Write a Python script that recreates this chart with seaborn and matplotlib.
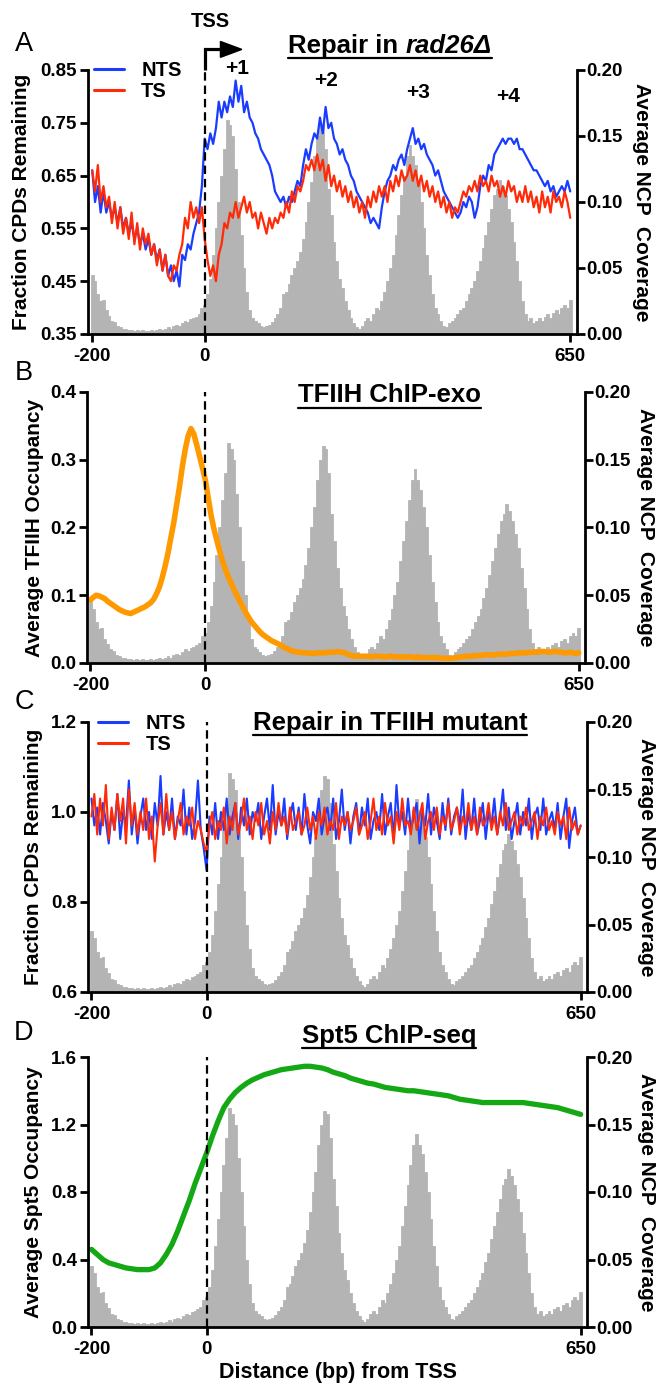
import numpy as np
import pandas as pd
import matplotlib
matplotlib.use("Agg")
import matplotlib.pyplot as plt
import matplotlib.transforms as mtransforms
from matplotlib.lines import Line2D
from matplotlib.patches import Polygon
from matplotlib.ticker import FormatStrFormatter
import seaborn as sns

# ---------------- data ----------------
pos5 = np.arange(-200, 651, 5)      # 5-bp grid, -200..650
pos10 = np.arange(-200, 651, 10)    # 10-bp grid

ncp_coverage = [
    0.045, 0.040, 0.030, 0.025, 0.026, 0.018, 0.014, 0.010, 0.009, 0.006,
    0.005, 0.004, 0.004, 0.003, 0.003, 0.002, 0.003, 0.002, 0.003, 0.002,
    0.002, 0.003, 0.002, 0.003, 0.004, 0.003, 0.004, 0.005, 0.004, 0.006,
    0.007, 0.006, 0.008, 0.010, 0.009, 0.011, 0.012, 0.013, 0.015, 0.020,
    0.022, 0.030, 0.042, 0.060, 0.080, 0.100, 0.120, 0.140, 0.162, 0.158,
    0.150, 0.125, 0.100, 0.075, 0.050, 0.032, 0.018, 0.012, 0.010, 0.008,
    0.006, 0.005, 0.006, 0.007, 0.009, 0.012, 0.015, 0.020, 0.030, 0.032,
    0.038, 0.045, 0.050, 0.055, 0.062, 0.072, 0.085, 0.100, 0.115, 0.135,
    0.150, 0.160, 0.158, 0.140, 0.110, 0.090, 0.070, 0.055, 0.042, 0.035,
    0.025, 0.018, 0.012, 0.008, 0.005, 0.004, 0.006, 0.010, 0.012, 0.010,
    0.015, 0.020, 0.018, 0.025, 0.032, 0.040, 0.050, 0.060, 0.075, 0.090,
    0.105, 0.120, 0.135, 0.143, 0.135, 0.128, 0.115, 0.100, 0.080, 0.060,
    0.045, 0.030, 0.020, 0.015, 0.010, 0.006, 0.005, 0.008, 0.010, 0.012,
    0.015, 0.018, 0.020, 0.025, 0.030, 0.035, 0.040, 0.048, 0.055, 0.065,
    0.075, 0.085, 0.095, 0.105, 0.110, 0.117, 0.112, 0.105, 0.095, 0.085,
    0.070, 0.055, 0.040, 0.025, 0.015, 0.010, 0.012, 0.008, 0.010, 0.012,
    0.010, 0.013, 0.015, 0.012, 0.016, 0.018, 0.015, 0.020, 0.022, 0.020,
    0.026]

# Panel A: repair in rad26 (fraction CPDs remaining)
rad26_nts = [
    0.66, 0.60, 0.63, 0.58, 0.62, 0.58, 0.60, 0.57, 0.59, 0.56,
    0.59, 0.55, 0.57, 0.54, 0.56, 0.53, 0.55, 0.52, 0.54, 0.51,
    0.53, 0.50, 0.52, 0.49, 0.51, 0.47, 0.50, 0.46, 0.48, 0.45,
    0.47, 0.44, 0.50, 0.49, 0.52, 0.51, 0.54, 0.56, 0.58, 0.63,
    0.72,
    0.70, 0.73, 0.71, 0.74, 0.79, 0.76, 0.79, 0.77, 0.80, 0.78,
    0.83, 0.79, 0.82, 0.77, 0.79, 0.76, 0.75, 0.73, 0.72, 0.70,
    0.69, 0.68, 0.67, 0.65, 0.62, 0.61, 0.60, 0.61, 0.59, 0.61,
    0.60, 0.62, 0.64, 0.63, 0.67, 0.70, 0.68, 0.71, 0.73, 0.72,
    0.76, 0.73, 0.78, 0.74, 0.75, 0.72, 0.71, 0.69, 0.70, 0.68,
    0.67, 0.65, 0.64, 0.62, 0.61, 0.60, 0.59, 0.58, 0.56, 0.57,
    0.56, 0.55, 0.59, 0.62, 0.64, 0.65, 0.67, 0.66, 0.68, 0.69,
    0.67, 0.70, 0.72, 0.74, 0.71, 0.72, 0.70, 0.71, 0.69, 0.68,
    0.67, 0.65, 0.66, 0.64, 0.62, 0.61, 0.60, 0.59, 0.58, 0.57,
    0.58, 0.60, 0.59, 0.61, 0.60, 0.57, 0.59, 0.63, 0.65, 0.64,
    0.67, 0.66, 0.69, 0.70, 0.71, 0.72, 0.71, 0.72, 0.72, 0.71,
    0.72, 0.70, 0.70, 0.69, 0.68, 0.67, 0.66, 0.66, 0.65, 0.64,
    0.63, 0.64, 0.62, 0.63, 0.61, 0.62, 0.63, 0.62, 0.64, 0.62]
rad26_ts = [
    0.66, 0.62, 0.67, 0.60, 0.63, 0.59, 0.61, 0.56, 0.60, 0.55,
    0.59, 0.54, 0.57, 0.53, 0.58, 0.52, 0.56, 0.51, 0.55, 0.52,
    0.54, 0.50, 0.52, 0.48, 0.51, 0.47, 0.50, 0.46, 0.45, 0.48,
    0.47, 0.50, 0.52, 0.57, 0.55, 0.60, 0.57, 0.59, 0.56, 0.59,
    0.53,
    0.49, 0.46, 0.48, 0.45, 0.50, 0.52, 0.56, 0.55, 0.58, 0.57,
    0.60, 0.57, 0.59, 0.61, 0.58, 0.60, 0.57, 0.58, 0.55, 0.58,
    0.56, 0.54, 0.57, 0.55, 0.57, 0.56, 0.58, 0.57, 0.60, 0.58,
    0.62, 0.60, 0.63, 0.62, 0.64, 0.67, 0.66, 0.68, 0.66, 0.69,
    0.66, 0.68, 0.64, 0.67, 0.63, 0.65, 0.62, 0.64, 0.61, 0.63,
    0.60, 0.62, 0.59, 0.61, 0.58, 0.60, 0.57, 0.61, 0.59, 0.62,
    0.60, 0.63, 0.61, 0.63, 0.60, 0.64, 0.62, 0.65, 0.63, 0.66,
    0.64, 0.65, 0.67, 0.64, 0.66, 0.63, 0.65, 0.62, 0.64, 0.61,
    0.63, 0.60, 0.62, 0.59, 0.61, 0.58, 0.60, 0.57, 0.59, 0.58,
    0.60, 0.62, 0.61, 0.63, 0.62, 0.64, 0.62, 0.65, 0.63, 0.64,
    0.62, 0.65, 0.63, 0.64, 0.61, 0.63, 0.61, 0.64, 0.62, 0.63,
    0.60, 0.62, 0.60, 0.63, 0.60, 0.62, 0.59, 0.61, 0.58, 0.62,
    0.59, 0.61, 0.58, 0.62, 0.60, 0.61, 0.59, 0.62, 0.60, 0.57]

# Panel B: TFIIH ChIP-exo occupancy
tfiih_occupancy = [
    0.093, 0.097, 0.100, 0.099, 0.097, 0.095, 0.091, 0.088, 0.085, 0.082,
    0.079, 0.077, 0.075, 0.074, 0.073, 0.075, 0.077, 0.079, 0.081, 0.083,
    0.086, 0.089, 0.094, 0.102, 0.112, 0.126, 0.143, 0.162, 0.185, 0.207,
    0.233, 0.260, 0.290, 0.315, 0.335, 0.346, 0.338, 0.322, 0.305, 0.288,
    0.270,
    0.244, 0.218, 0.198, 0.181, 0.165, 0.150, 0.138, 0.127, 0.118, 0.108,
    0.100, 0.091, 0.083, 0.075, 0.068, 0.061, 0.056, 0.051, 0.046, 0.042,
    0.039, 0.036, 0.033, 0.031, 0.029, 0.027, 0.024, 0.022, 0.020, 0.018,
    0.017, 0.016, 0.016, 0.015, 0.015, 0.015, 0.014, 0.014, 0.015, 0.015,
    0.015, 0.015, 0.016, 0.016, 0.016, 0.017, 0.016, 0.016, 0.014, 0.012,
    0.011, 0.010, 0.010, 0.010, 0.010, 0.010, 0.010, 0.009, 0.010, 0.010,
    0.010, 0.009, 0.009, 0.010, 0.010, 0.009, 0.009, 0.009, 0.009, 0.009,
    0.009, 0.009, 0.008, 0.009, 0.008, 0.008, 0.008, 0.008, 0.008, 0.008,
    0.008, 0.007, 0.007, 0.007, 0.007, 0.007, 0.008, 0.008, 0.009, 0.009,
    0.010, 0.010, 0.010, 0.011, 0.011, 0.011, 0.012, 0.012, 0.012, 0.012,
    0.012, 0.013, 0.013, 0.013, 0.013, 0.014, 0.014, 0.014, 0.015, 0.015,
    0.015, 0.015, 0.016, 0.016, 0.016, 0.016, 0.017, 0.017, 0.016, 0.016,
    0.017, 0.017, 0.016, 0.016, 0.015, 0.015, 0.016, 0.015, 0.014, 0.015]

# Panel C: repair in TFIIH mutant
tfiih_mut_nts = [
    1.03, 0.97, 1.01, 0.95, 1.02, 0.98, 0.93, 1.00, 0.96, 1.04,
    0.94, 1.00, 0.97, 1.07, 0.95, 1.01, 0.93, 0.99, 1.03, 0.96,
    1.00, 0.94, 1.02, 0.97, 1.08, 0.95, 1.00, 0.96, 1.03, 0.94,
    0.99, 0.97, 1.05, 0.95, 1.01, 0.94, 0.98, 1.07, 0.96, 0.92,
    0.87,
    0.99, 0.95, 1.02, 0.94, 1.00, 0.96, 1.03, 0.95, 0.99, 1.02,
    0.94, 1.01, 0.97, 1.03, 0.95, 1.00, 0.98, 1.02, 0.94, 0.99,
    1.03, 0.96, 1.06, 0.95, 1.00, 0.97, 1.03, 0.94, 0.99, 1.02,
    0.96, 1.01, 0.95, 1.04, 0.97, 0.93, 1.00, 0.98, 1.03, 0.95,
    0.99, 1.01, 0.96, 1.03, 0.94, 0.98, 1.05, 0.96, 1.00, 0.93,
    0.99, 1.02, 0.95, 1.01, 0.97, 1.03, 0.94, 0.98, 1.00, 0.96,
    1.04, 0.95, 0.99, 1.02, 0.94, 1.06, 0.97, 1.00, 0.95, 1.03,
    0.96, 0.99, 1.02, 0.93, 1.00, 0.97, 1.04, 0.95, 1.01, 0.98,
    0.94, 1.02, 0.96, 1.03, 0.95, 0.99, 1.01, 0.97, 1.05, 0.94,
    1.00, 0.96, 1.03, 0.95, 0.98, 1.02, 0.94, 1.00, 0.97, 1.03,
    0.95, 0.99, 1.05, 0.96, 1.01, 0.94, 0.98, 1.02, 0.95, 1.00,
    0.97, 1.03, 0.94, 0.99, 1.01, 0.96, 1.03, 0.95, 0.98, 1.00,
    0.96, 1.02, 0.94, 0.99, 1.03, 0.92, 0.98, 1.01, 0.95, 0.97]
tfiih_mut_ts = [
    0.99, 1.04, 0.95, 1.03, 0.97, 1.06, 0.94, 1.01, 0.96, 1.04,
    0.98, 1.03, 0.93, 1.05, 0.97, 1.02, 0.95, 1.00, 0.96, 1.03,
    0.94, 0.99, 0.89, 0.97, 1.02, 0.95, 1.04, 0.96, 1.00, 0.94,
    0.98, 1.02, 0.95, 0.99, 0.97, 1.01, 0.94, 0.98, 0.96, 0.93,
    0.91,
    0.97, 1.00, 0.94, 0.98, 0.96, 1.01, 0.93, 0.99, 0.96, 1.02,
    0.95, 0.98, 1.03, 0.96, 0.99, 0.94, 1.00, 0.97, 1.02, 0.95,
    0.98, 0.93, 1.00, 0.96, 1.02, 0.97, 0.99, 0.95, 1.01, 0.96,
    0.98, 1.00, 0.95, 0.97, 1.01, 0.96, 0.99, 0.94, 1.00, 0.97,
    1.01, 0.95, 0.98, 0.96, 1.02, 0.94, 0.99, 0.97, 1.00, 0.96,
    0.98, 1.01, 0.95, 0.97, 1.00, 0.94, 0.98, 1.03, 0.96, 0.99,
    0.95, 1.02, 0.97, 0.99, 0.93, 1.00, 0.96, 1.03, 0.97, 0.98,
    0.95, 1.01, 0.96, 0.99, 1.02, 0.94, 0.98, 1.00, 0.96, 1.01,
    0.95, 0.99, 0.97, 1.02, 0.96, 0.98, 1.01, 0.95, 0.99, 0.97,
    1.02, 0.96, 0.99, 0.95, 1.01, 0.97, 0.98, 1.02, 0.96, 0.99,
    0.95, 1.00, 0.97, 1.02, 0.96, 0.98, 1.00, 0.95, 0.99, 0.97,
    1.01, 0.96, 0.98, 1.00, 0.94, 0.99, 0.97, 1.01, 0.96, 0.98,
    0.95, 1.00, 0.97, 0.99, 0.94, 1.01, 0.96, 0.98, 0.95, 0.97]

# Panel D: Spt5 ChIP-seq occupancy (10-bp grid)
spt5_occupancy = [
    0.46, 0.43, 0.40, 0.38, 0.37, 0.36, 0.35, 0.345, 0.34, 0.34,
    0.34, 0.35, 0.38, 0.43, 0.49, 0.57, 0.66, 0.75, 0.85, 0.94,
    1.03, 1.13, 1.22, 1.30, 1.35, 1.39, 1.42, 1.445, 1.465, 1.48,
    1.495, 1.505, 1.515, 1.525, 1.53, 1.535, 1.54, 1.545, 1.545, 1.54,
    1.535, 1.525, 1.51, 1.50, 1.49, 1.475, 1.465, 1.455, 1.445, 1.44,
    1.43, 1.42, 1.415, 1.41, 1.405, 1.40, 1.40, 1.395, 1.39, 1.385,
    1.38, 1.375, 1.37, 1.36, 1.35, 1.345, 1.34, 1.335, 1.33, 1.33,
    1.33, 1.33, 1.33, 1.33, 1.33, 1.33, 1.325, 1.32, 1.315, 1.31,
    1.305, 1.30, 1.29, 1.28, 1.27, 1.26]

x_ticks = [-200, 0, 650]
ncp_ticks = [0.00, 0.05, 0.10, 0.15, 0.20]
nuc_labels = ["+1", "+2", "+3", "+4"]
nuc_label_x = [58, 215, 379, 539]
nuc_label_y = [0.852, 0.831, 0.808, 0.799]

ncp_df = pd.DataFrame({"pos": pos5.astype(float), "coverage": ncp_coverage})

# ---------------- style ----------------
sns.set_style("ticks")
plt.rcParams["font.family"] = ["Liberation Sans", "DejaVu Sans"]
plt.rcParams["font.weight"] = "bold"
plt.rcParams["axes.labelweight"] = "bold"
plt.rcParams["axes.unicode_minus"] = False
for k in ["text.color", "axes.labelcolor", "xtick.color", "ytick.color",
          "axes.edgecolor", "xtick.labelcolor", "ytick.labelcolor"]:
    plt.rcParams[k] = "black"

BLUE = "#1a3cff"
RED = "#ff2a08"
ORANGE = "#ff9900"
GREEN = "#14a814"
GRAY = "#b4b4b4"
TICK_FS = 13.5
LAB_FS = 15
TITLE_FS = 18.5

W, H = 658, 1383
fig = plt.figure(figsize=(W / 100, H / 100), dpi=100)
fig.patch.set_facecolor("white")


def add_axes_px(l, t, r, b):
    return fig.add_axes([l / W, 1 - b / H, (r - l) / W, (b - t) / H])


def make_panel(box, xlim, ylim, yticks, yfmt, ylabel, ylabel_x, rlabel_x):
    ax = add_axes_px(*box)
    ax2 = ax.twinx()
    sns.histplot(data=ncp_df, x="pos", weights="coverage",
                 binwidth=5, binrange=(-202.5, 652.5), stat="count",
                 color=GRAY, alpha=1, ax=ax2)
    for p in ax2.patches:
        p.set_linewidth(0.6)
        p.set_edgecolor(GRAY)
        p.set_facecolor(GRAY)
    ax2.set_ylim(0, 0.2)
    ax2.set_yticks(ncp_ticks)
    ax2.yaxis.set_major_formatter(FormatStrFormatter("%.2f"))
    ax.set_zorder(ax2.get_zorder() + 1)
    ax.patch.set_visible(False)
    ax.set_xlim(*xlim)
    ax.set_ylim(*ylim)
    ax.set_yticks(yticks)
    ax.yaxis.set_major_formatter(FormatStrFormatter(yfmt))
    ax.set_xticks(x_ticks)
    for a in (ax, ax2):
        a.spines["top"].set_visible(False)
        for s in a.spines.values():
            s.set_linewidth(2.0)
            s.set_color("black")
    ax.spines["right"].set_visible(False)
    ax2.spines["left"].set_visible(False)
    ax2.spines["bottom"].set_visible(False)
    ax.tick_params(axis="y", width=2, length=6, labelsize=TICK_FS, pad=2, colors="black")
    ax.tick_params(axis="x", width=2, length=6, labelsize=TICK_FS, pad=4, colors="black")
    ax2.tick_params(axis="y", width=2, length=6, labelsize=TICK_FS, pad=1, colors="black")
    ax.set_xlabel("")
    ax.set_ylabel(ylabel, fontsize=LAB_FS, rotation=90, va="center", ha="center",
                  color="black")
    ax.yaxis.set_label_coords(ylabel_x, 0.5)
    ax2.set_ylabel("Average NCP  Coverage", fontsize=LAB_FS, rotation=270,
                   va="center", ha="center", color="black")
    ax2.yaxis.set_label_coords(rlabel_x, 0.5)
    ax.axvline(0, color="black", lw=1.6, dashes=(3.8, 2.2), zorder=5)
    return ax, ax2


renderer = fig.canvas.get_renderer()


def text_width(s, style):
    t = fig.text(0, 0, s, fontsize=TITLE_FS, fontweight="bold", fontstyle=style)
    w = t.get_window_extent(renderer).width
    t.remove()
    return w


def underlined_title(cx, baseline, underline_y, parts):
    widths = []
    for s, style in parts:
        w = text_width(s + "|", style) - text_width("|", style)
        widths.append(w)
    total = sum(widths)
    x = cx - total / 2
    for (s, style), w in zip(parts, widths):
        fig.text(x / W, 1 - baseline / H, s, fontsize=TITLE_FS, fontweight="bold",
                 fontstyle=style, ha="left", va="baseline", color="black")
        x += w
    fig.add_artist(Line2D([(cx - total / 2) / W, (cx + total / 2) / W],
                          [1 - underline_y / H] * 2, color="black", lw=1.6,
                          transform=fig.transFigure))


def panel_letter(x, y, s):
    fig.text(x / W, 1 - y / H, s, fontsize=19.5, fontweight="normal",
             ha="center", va="center", color="black")


# ---------- Panel A ----------
axA, axA2 = make_panel((88, 70, 577, 334), (-207.5, 662), (0.35, 0.85),
                       [0.35, 0.45, 0.55, 0.65, 0.75, 0.85], "%.2f",
                       "Fraction CPDs Remaining", -0.135, 1.132)
sns.lineplot(x=pos5, y=rad26_nts, ax=axA, color=BLUE, lw=1.6)
sns.lineplot(x=pos5, y=rad26_ts, ax=axA, color=RED, lw=1.6)
axA.legend(handles=[Line2D([], [], color=BLUE, lw=2.2), Line2D([], [], color=RED, lw=2.2)],
           labels=["NTS", "TS"], loc="upper left", bbox_to_anchor=(0.012, 1.035),
           frameon=False, fontsize=14.5, handlelength=1.5, handletextpad=0.85,
           labelspacing=0.12, borderpad=0, borderaxespad=0)
for lab, lx, ly in zip(nuc_labels, nuc_label_x, nuc_label_y):
    axA.text(lx, ly, lab, fontsize=15, fontweight="bold", ha="center", va="center")
trans = mtransforms.blended_transform_factory(axA.transData, axA.transAxes)
axA.plot([0, 0, 30], [1.0, 1.078, 1.078], transform=trans, clip_on=False,
         color="black", lw=2.3, solid_joinstyle="miter", solid_capstyle="butt")
axA.add_patch(Polygon([[28, 1.078 + 0.03], [66, 1.078], [28, 1.078 - 0.03]],
                      closed=True, transform=trans, clip_on=False, color="black"))
axA.text(10, 1.182, "TSS", transform=trans, fontsize=14.5, fontweight="bold",
         ha="center", va="center")
panel_letter(24, 44, "A")
underlined_title(390, 53, 58, [("Repair in ", "normal"), ("rad26Δ", "italic")])

# ---------- Panel B ----------
axB, axB2 = make_panel((87, 392, 585, 663), (-206, 661), (0.0, 0.4),
                       [0.0, 0.1, 0.2, 0.3, 0.4], "%.1f",
                       "Average TFIIH Occupancy", -0.106, 1.122)
sns.lineplot(x=pos5, y=tfiih_occupancy, ax=axB, color=ORANGE, lw=4.0)
for ln in axB.lines:
    ln.set_solid_capstyle("round")
panel_letter(24, 373, "B")
underlined_title(389, 402, 408, [("TFIIH ChIP-exo", "normal")])

# ---------- Panel C ----------
axC, axC2 = make_panel((88, 722, 587, 992), (-206, 661), (0.6, 1.2),
                       [0.6, 0.8, 1.0, 1.2], "%.1f",
                       "Fraction CPDs Remaining", -0.11, 1.12)
sns.lineplot(x=pos5, y=tfiih_mut_nts, ax=axC, color=BLUE, lw=1.5)
sns.lineplot(x=pos5, y=tfiih_mut_ts, ax=axC, color=RED, lw=1.5)
axC.legend(handles=[Line2D([], [], color=BLUE, lw=2.2), Line2D([], [], color=RED, lw=2.2)],
           labels=["NTS", "TS"], loc="upper left", bbox_to_anchor=(0.02, 1.03),
           frameon=False, fontsize=14.5, handlelength=1.5, handletextpad=0.85,
           labelspacing=0.12, borderpad=0, borderaxespad=0)
panel_letter(24, 702, "C")
underlined_title(390, 730, 735, [("Repair in TFIIH mutant", "normal")])

# ---------- Panel D ----------
axD, axD2 = make_panel((88, 1057, 587, 1327), (-206, 661), (0.0, 1.6),
                       [0.0, 0.4, 0.8, 1.2, 1.6], "%.1f",
                       "Average Spt5 Occupancy", -0.11, 1.12)
sns.lineplot(x=pos10, y=spt5_occupancy, ax=axD, color=GREEN, lw=3.8)
for ln in axD.lines:
    ln.set_solid_capstyle("round")
axD.set_xlabel("Distance (bp) from TSS", fontsize=15.5, va="center", color="black")
axD.xaxis.set_label_coords(0.5, -0.167)
panel_letter(24, 1033, "D")
underlined_title(389, 1043, 1048, [("Spt5 ChIP-seq", "normal")])

fig.savefig("out.png", dpi=100, facecolor="white")
